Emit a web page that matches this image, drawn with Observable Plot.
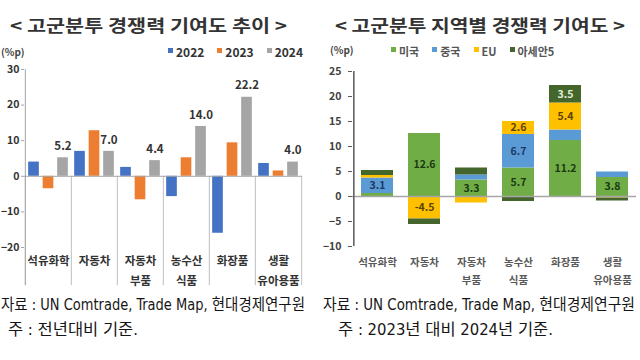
<!DOCTYPE html>
<html><head><meta charset="utf-8">
<script src="https://cdn.jsdelivr.net/npm/d3@7"></script>
<script src="https://cdn.jsdelivr.net/npm/@observablehq/plot@0.6"></script>
<style>
html,body{margin:0;padding:0;background:#fff;width:640px;height:360px;overflow:hidden;}
body{position:relative;font-family:'Noto Sans CJK KR','Noto Sans',sans-serif;}
.abs{position:absolute;white-space:nowrap;transform-origin:left center;}
.title{font-size:17px;font-weight:700;color:#333;line-height:22px;}
.unit{font-size:10px;font-weight:700;color:#444;line-height:14px;}
.legend{display:flex;align-items:center;line-height:14px;}
.legend .item{display:flex;align-items:center;}
.legend .sw{display:inline-block;width:5px;height:5px;margin-right:3px;margin-top:-3px;}
.foot{font-family:'Liberation Sans Narrow','DejaVu Sans Condensed','Noto Sans CJK KR',sans-serif;font-size:16px;color:#151515;line-height:20px;}
.chart{position:absolute;top:0;}
.chart svg{overflow:visible;}
</style></head><body>
<div id="t1" class="abs title" style="left:10px;top:14px">&lt; 고군분투 경쟁력 기여도 추이 &gt;</div>
<div id="t2" class="abs title" style="left:335px;top:14px">&lt; 고군분투 지역별 경쟁력 기여도 &gt;</div>
<div class="abs unit" style="left:1px;top:45px">(%p)</div>
<div class="abs unit" style="left:330px;top:43px">(%p)</div>
<div id="lg1" class="abs legend" style="left:168px;top:45px;font-size:12px;font-weight:700;color:#333;gap:13px"></div>
<div id="lg2" class="abs legend" style="left:391px;top:44px;font-size:11px;font-weight:700;color:#555;gap:13px"></div>
<div id="c1" class="chart" style="left:0px"></div>
<div id="c2" class="chart" style="left:320px"></div>
<div id="f1a" class="abs foot" style="left:1px;top:295px">자료 : UN Comtrade, Trade Map, 현대경제연구원</div>
<div id="f1b" class="abs foot" style="left:8px;top:320px">주 : 전년대비 기준.</div>
<div id="f2a" class="abs foot" style="left:323px;top:295px">자료 : UN Comtrade, Trade Map, 현대경제연구원</div>
<div id="f2b" class="abs foot" style="left:338px;top:320px">주 : 2023년 대비 2024년 기준.</div>
<script>
// ---- data ----
const categories = ["석유화학", "자동차", "자동차\n부품", "농수산\n식품", "화장품", "생활\n유아용품"];
const years = ["2022", "2023", "2024"];
const values2022 = [4.0, 7.0, 2.5, -5.7, -16.0, 3.6];
const values2023 = [-3.5, 12.8, -6.6, 5.2, 9.4, 1.5];
const values2024 = [5.2, 7.0, 4.4, 14.0, 22.2, 4.0];
const yearColors = ["#4472C4", "#ED7D31", "#A5A5A5"];
const leftTicks = [-20, -10, 0, 10, 20, 30];

const regions = ["미국", "중국", "EU", "아세안5"];
const usValues = [0.6, 12.6, 3.3, 5.7, 11.2, 3.8];
const chinaValues = [3.1, 0.0, 1.0, 6.7, 2.1, 1.1];
const euValues = [0.5, -4.5, -1.3, 2.6, 5.4, -0.3];
const aseanValues = [1.0, -1.1, 1.4, -1.0, 3.5, -0.6];
const regionColors = ["#70AD47", "#5B9BD5", "#FFC000", "#44652C"];
const regionTextColors = ["#1B3A10", "#1F3864", "#5C4300", "#E2EFDA"];
const rightTicks = [-10, -5, 0, 5, 10, 15, 20, 25];

const FONT = "'Noto Sans CJK KR','Noto Sans',sans-serif";

// ---- legends ----
function legend(el, names, colors) {
  names.forEach((n, i) => {
    const it = document.createElement("span"); it.className = "item";
    const sw = document.createElement("span"); sw.className = "sw"; sw.style.background = colors[i];
    it.appendChild(sw); it.appendChild(document.createTextNode(n));
    el.appendChild(it);
  });
}
legend(document.getElementById("lg1"), years, yearColors);
legend(document.getElementById("lg2"), regions, regionColors);

// ---- left chart ----
const yearVals = [values2022, values2023, values2024];
const leftData = categories.flatMap((c, i) => years.map((y, j) => ({category: c, year: y, value: yearVals[j][i]})));
const LW = 320, LML = 24, LMR = 18;
const bwL = (LW - LML - LMR) / categories.length;
const barW = 11, yearOffset = 14.5, bottomL = -30.7;
const leftPlot = Plot.plot({
  width: LW, height: 300,
  marginLeft: LML, marginRight: LMR, marginTop: 69, marginBottom: 53,
  style: {fontFamily: FONT, overflow: "visible", background: "transparent"},
  x: {domain: categories, padding: 0},
  y: {domain: [-20, 30]},
  color: {domain: years, range: yearColors},
  marks: [
    Plot.ruleX(categories, {x: d => d, y1: 0, y2: bottomL, dx: -bwL / 2, stroke: "#BFBFBF"}),
    Plot.ruleX([categories[categories.length - 1]], {x: d => d, y1: 0, y2: bottomL, dx: bwL / 2, stroke: "#BFBFBF"}),
    Plot.ruleX([categories[0]], {x: d => d, y1: bottomL, y2: 30, dx: -bwL / 2, stroke: "#A6A6A6"}),
    ...years.map((yr, j) => Plot.barY(leftData.filter(d => d.year === yr), {
      x: "category", y: "value", fill: "year",
      insetLeft: (bwL - barW) / 2, insetRight: (bwL - barW) / 2, dx: (j - 1) * yearOffset
    })),
    Plot.ruleY([0], {stroke: "#A6A6A6"}),
    Plot.text(leftData.filter(d => d.year === "2024"), {
      x: "category", y: "value", text: d => d.value.toFixed(1),
      dx: yearOffset, dy: -11.5, fontWeight: "bold", fontSize: 11.5, fill: "#333"
    }),
    Plot.axisY({ticks: leftTicks, tickSize: 3, tickPadding: 2, fontWeight: "bold", fontSize: 10.5, fill: "#333", stroke: "#A6A6A6", label: null}),
    Plot.axisX({tickSize: 0, tickPadding: 3.5, fontWeight: "bold", fontSize: 11.5, fill: "#333", lineHeight: 1.74, label: null})
  ]
});
document.getElementById("c1").appendChild(leftPlot);

// ---- right chart ----
const regionVals = [usValues, chinaValues, euValues, aseanValues];
const rightData = categories.flatMap((c, i) => regions.map((r, j) => ({category: c, region: r, value: regionVals[j][i]})));
const RW = 320, RML = 32, RMR = 4;
const stepR = (RW - RML - RMR) / categories.length;
const rightPlot = Plot.plot({
  width: RW, height: 300,
  marginLeft: RML, marginRight: RMR, marginTop: 71, marginBottom: 54,
  style: {fontFamily: FONT, overflow: "visible", background: "transparent"},
  x: {domain: categories, paddingInner: 0.32, paddingOuter: 0.16},
  y: {domain: [-10, 25]},
  color: {domain: regions, range: regionColors},
  marks: [
    Plot.barY(rightData, {x: "category", y: "value", fill: "region"}),
    Plot.ruleY([0], {stroke: "#A6A6A6", strokeWidth: 1.5}),
    ...regions.map((r, j) => Plot.text(rightData, Plot.stackY({
      x: "category", y: "value",
      text: d => (d.region === r && Math.abs(d.value) >= 2.5) ? d.value.toFixed(1) : "",
      fill: regionTextColors[j], fontWeight: "bold", fontSize: 10.5
    }))),
    Plot.ruleX([categories[0]], {x: d => d, dx: -stepR / 2, stroke: "#595959", strokeWidth: 1.5}),
    Plot.axisY({ticks: rightTicks, tickSize: 4, tickPadding: 7, fontWeight: "bold", fontSize: 10.5, fill: "#404040", stroke: "#595959", label: null}),
    Plot.axisX({tickSize: 0, tickPadding: 7, fontWeight: "bold", fontSize: 10.5, fill: "#595959", lineHeight: 1.71, label: null})
  ]
});
document.getElementById("c2").appendChild(rightPlot);

// ---- fit text widths to reference ----
function fit(id, target) {
  const el = document.getElementById(id);
  el.style.transform = "none";
  const w = el.getBoundingClientRect().width;
  if (w > 0) el.style.transform = `scaleX(${target / w})`;
}
function fitAll() {
  fit("t1", 277); fit("t2", 290);
  fit("f1a", 304); fit("f1b", 130); fit("f2a", 312); fit("f2b", 215);
}
fitAll();
if (document.fonts && document.fonts.ready) document.fonts.ready.then(fitAll);
</script>
</body></html>
